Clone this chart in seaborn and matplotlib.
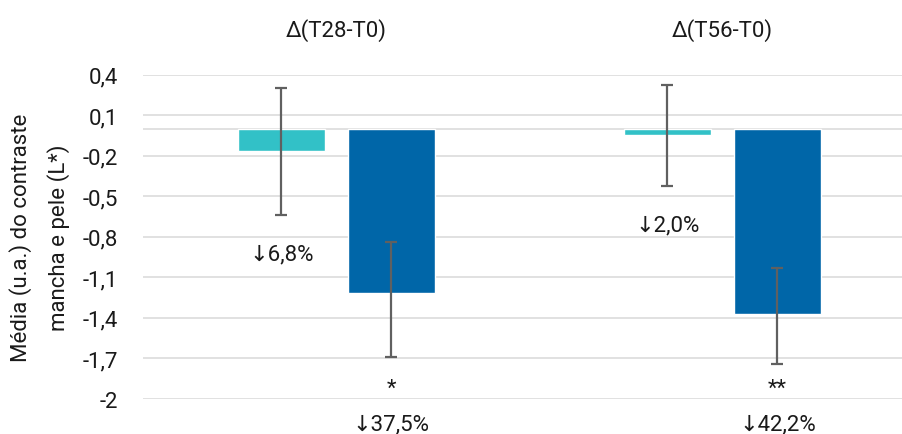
import matplotlib
matplotlib.use("Agg")
import matplotlib.pyplot as plt
import seaborn as sns
import pandas as pd

# Data
groups = ["Δ(T28-T0)", "Δ(T56-T0)"]
series = ["Série 1", "Série 2"]
values_s1 = [-0.167, -0.049]
values_s2 = [-1.219, -1.370]
err_low_s1 = [0.472, 0.373]
err_high_s1 = [0.466, 0.370]
err_low_s2 = [0.470, 0.373]
err_high_s2 = [0.380, 0.338]
pct_s1 = ["↓6,8%", "↓2,0%"]
pct_s2 = ["↓37,5%", "↓42,2%"]
signif_s2 = ["*", "**"]
yticks = [0.4, 0.1, -0.2, -0.5, -0.8, -1.1, -1.4, -1.7, -2.0]
ytick_labels = ["0,4", "0,1", "-0,2", "-0,5", "-0,8", "-1,1", "-1,4", "-1,7", "-2"]
ylabel = "Média (u.a.) do contraste\nmancha e pele (L*)"

colors = ["#32C1C7", "#0066A8"]
text_color = "#1a1a1a"
fs = 16

df = pd.DataFrame({
    "grupo": groups * 2,
    "serie": [series[0]] * 2 + [series[1]] * 2,
    "valor": values_s1 + values_s2,
})

sns.set_theme(style="white")
plt.rcParams["font.family"] = ["Roboto", "DejaVu Sans"]
plt.rcParams["text.color"] = text_color

W, H = 903, 435
fig = plt.figure(figsize=(W / 100, H / 100), dpi=100)
left_px, right_px = 143.3, 915.5
top_px, bot_px = 75.7, 399.7
ax = fig.add_axes([left_px / W, 1 - bot_px / H, (right_px - left_px) / W, (bot_px - top_px) / H])

sns.barplot(data=df, x="grupo", y="valor", hue="serie", palette=colors,
            order=groups, hue_order=series, width=0.57, gap=0.214,
            errorbar=None, legend=False, ax=ax, saturation=1, zorder=3)

ax.set_xlim(-0.5, 1.5)
ax.set_ylim(-2.0, 0.4)

# Bar centres taken from the drawn patches
xs = sorted(p.get_x() + p.get_width() / 2 for p in ax.patches)
x_s1 = [xs[0], xs[2]]
x_s2 = [xs[1], xs[3]]

err_kw = dict(fmt="none", ecolor="#606060", elinewidth=1.6, capsize=4.6, capthick=1.6, zorder=4)
ax.errorbar(x_s1, values_s1, yerr=[err_low_s1, err_high_s1], **err_kw)
ax.errorbar(x_s2, values_s2, yerr=[err_low_s2, err_high_s2], **err_kw)

# Grid and zero line
ax.set_yticks(yticks)
ax.set_yticklabels(ytick_labels)
ax.yaxis.grid(True, color="#d9d9d9", linewidth=1.1, zorder=0)
ax.axhline(0, color="#d9d9d9", linewidth=1.1, zorder=1)
ax.set_axisbelow(True)
for s in ax.spines.values():
    s.set_visible(False)

ax.xaxis.tick_top()
ax.set_xticks([0, 1])
ax.set_xticklabels(groups)
ax.tick_params(axis="x", length=0, pad=24, labelsize=fs, labelcolor=text_color)
ax.tick_params(axis="y", length=0, pad=18, labelsize=fs, labelcolor=text_color)
ax.set_xlabel("")
ax.set_ylabel("")

fig.text(39.5 / W, 1 - 237.7 / H, ylabel, rotation=90, ha="center", va="center",
         fontsize=fs, linespacing=1.85, color=text_color, multialignment="center")

# Annotations
for x, v, lo, t in zip(x_s1, values_s1, err_low_s1, pct_s1):
    ax.text(x, v - lo - 0.29, t, ha="center", va="center", fontsize=fs)
for x, s, t in zip(x_s2, signif_s2, pct_s2):
    ax.text(x, -1.92, s, ha="center", va="center", fontsize=fs)
    ax.text(x, -2.19, t, ha="center", va="center", fontsize=fs, clip_on=False)

fig.savefig("out.png", dpi=100)
